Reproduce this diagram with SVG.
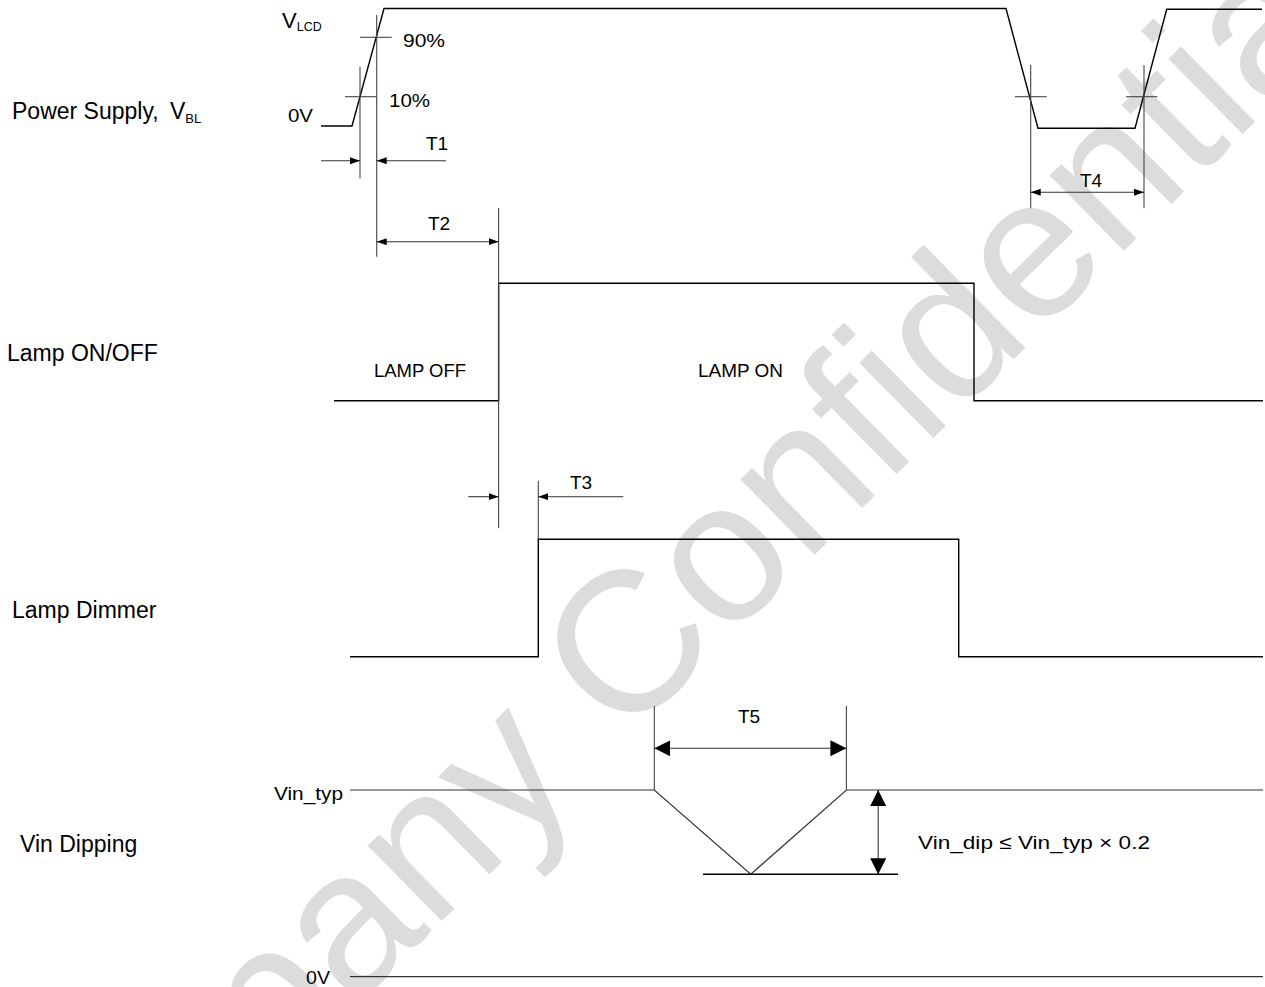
<svg xmlns="http://www.w3.org/2000/svg" width="1265" height="987" viewBox="0 0 1265 987">
<style>
.wm{font-family:"Liberation Sans",Arial,sans-serif;font-size:200px;fill:#dcdcdc}
.lbl{font-family:"Liberation Sans",Arial,sans-serif;font-size:23px;fill:#000}
.sm{font-family:"Liberation Sans",Arial,sans-serif;font-size:19px;fill:#000}
.wave{fill:none;stroke:#000;stroke-width:1.4}
.base{fill:none;stroke:#333;stroke-width:1.2}
.dim{fill:none;stroke:#444;stroke-width:1.1}
.ar{fill:none;stroke:#333;stroke-width:1.1;marker-end:url(#a)}
.ar2{fill:none;stroke:#333;stroke-width:1.1;marker-start:url(#a);marker-end:url(#a)}
.big{fill:none;stroke:#333;stroke-width:1.1;marker-start:url(#b);marker-end:url(#b)}
</style>
<defs>
<marker id="a" markerUnits="userSpaceOnUse" markerWidth="11" markerHeight="8" refX="10" refY="3.5" orient="auto-start-reverse"><path d="M0,0 L10,3.5 L0,7 z" fill="#000"/></marker>
<marker id="b" markerUnits="userSpaceOnUse" markerWidth="17" markerHeight="17" refX="16" refY="8" orient="auto-start-reverse"><path d="M0,0 L16,8 L0,16 z" fill="#000"/></marker>
</defs>
<rect width="1265" height="987" fill="#fff"/>
<text class="wm" transform="translate(622,744) rotate(-44.5)" x="-911" y="0">Company Confidential</text>

<g id="labels">
<text class="lbl" x="12" y="119">Power Supply,<tspan x="170">V</tspan><tspan font-size="13" dy="4">BL</tspan></text>
<text class="lbl" x="7" y="361">Lamp ON/OFF</text>
<text class="lbl" x="12" y="618">Lamp Dimmer</text>
<text class="lbl" x="20" y="852">Vin Dipping</text>
</g>

<g id="power-supply">
<path class="wave" d="M321,126 L352,126 L384,8.5 L1006,8.5 L1038,128.3 L1135,128.3 L1166.7,9.3 L1262,9.3"/>
<text class="sm" x="282" y="28" style="font-size:22px">V<tspan font-size="12.5" dy="3">LCD</tspan></text>
<text class="sm" x="403" y="47" textLength="42" lengthAdjust="spacingAndGlyphs">90%</text>
<text class="sm" x="389" y="107" textLength="41" lengthAdjust="spacingAndGlyphs">10%</text>
<text class="sm" x="288" y="122" textLength="25" lengthAdjust="spacingAndGlyphs">0V</text>
<line class="dim" x1="360" y1="37.3" x2="391.7" y2="37.3"/>
<line class="dim" x1="345" y1="96.7" x2="376.7" y2="96.7"/>
<line class="dim" x1="1015" y1="96.7" x2="1046.7" y2="96.7"/>
<line class="dim" x1="1126" y1="96.7" x2="1157.3" y2="96.7"/>
</g>

<g id="lamp-onoff">
<path class="wave" d="M334,400.7 L498.6,400.7 L498.6,283.3 L974,283.3 L974,400.7 L1263,400.7"/>
<text class="sm" x="374" y="376.7" textLength="92" lengthAdjust="spacingAndGlyphs">LAMP OFF</text>
<text class="sm" x="698" y="376.7" textLength="85" lengthAdjust="spacingAndGlyphs">LAMP ON</text>
</g>

<g id="lamp-dimmer">
<path class="wave" d="M350,656.7 L538.3,656.7 L538.3,539.3 L958.7,539.3 L958.7,656.7 L1263,656.7"/>
</g>

<g id="vin-dipping">
<path class="base" d="M350,790 L654.3,790 L750.7,874.3 L846.4,790 L1263,790"/>
<line class="wave" x1="703" y1="874.3" x2="898" y2="874.3"/>
<line class="base" x1="350" y1="976.7" x2="1263" y2="976.7"/>
<text class="sm" x="274" y="799.5" textLength="69" lengthAdjust="spacingAndGlyphs">Vin_typ</text>
<text class="sm" x="306" y="984" textLength="24" lengthAdjust="spacingAndGlyphs">0V</text>
<text class="sm" x="918" y="849.3" textLength="232" lengthAdjust="spacingAndGlyphs">Vin_dip ≤ Vin_typ × 0.2</text>
</g>

<g id="connectors">
<line class="dim" x1="360" y1="66.7" x2="360" y2="178.3"/>
<line class="dim" x1="376.7" y1="15" x2="376.7" y2="256.7"/>
<line class="dim" x1="498.6" y1="208" x2="498.6" y2="528.3"/>
<line class="dim" x1="538.3" y1="480.7" x2="538.3" y2="539.3"/>
<line class="dim" x1="1030.7" y1="65" x2="1030.7" y2="208.3"/>
<line class="dim" x1="1144" y1="65" x2="1144" y2="208.3"/>
<line class="dim" x1="654.3" y1="706" x2="654.3" y2="790"/>
<line class="dim" x1="846.4" y1="706" x2="846.4" y2="790"/>
<line class="ar" x1="321" y1="160.7" x2="360" y2="160.7"/>
<line class="ar" x1="446" y1="160.7" x2="376.7" y2="160.7"/>
<line class="ar2" x1="376.7" y1="241.7" x2="498.6" y2="241.7"/>
<line class="ar" x1="468.3" y1="496.7" x2="498.6" y2="496.7"/>
<line class="ar" x1="623.3" y1="496.7" x2="538.3" y2="496.7"/>
<line class="ar2" x1="1030.7" y1="192.3" x2="1144" y2="192.3"/>
<line class="big" x1="654.3" y1="748.3" x2="846.4" y2="748.3"/>
<line class="big" x1="878.2" y1="790" x2="878.2" y2="874.3"/>
<text class="sm" x="426" y="150">T1</text>
<text class="sm" x="428" y="230">T2</text>
<text class="sm" x="570" y="489.3">T3</text>
<text class="sm" x="1080" y="186.7">T4</text>
<text class="sm" x="738" y="722.7">T5</text>
</g>
</svg>
